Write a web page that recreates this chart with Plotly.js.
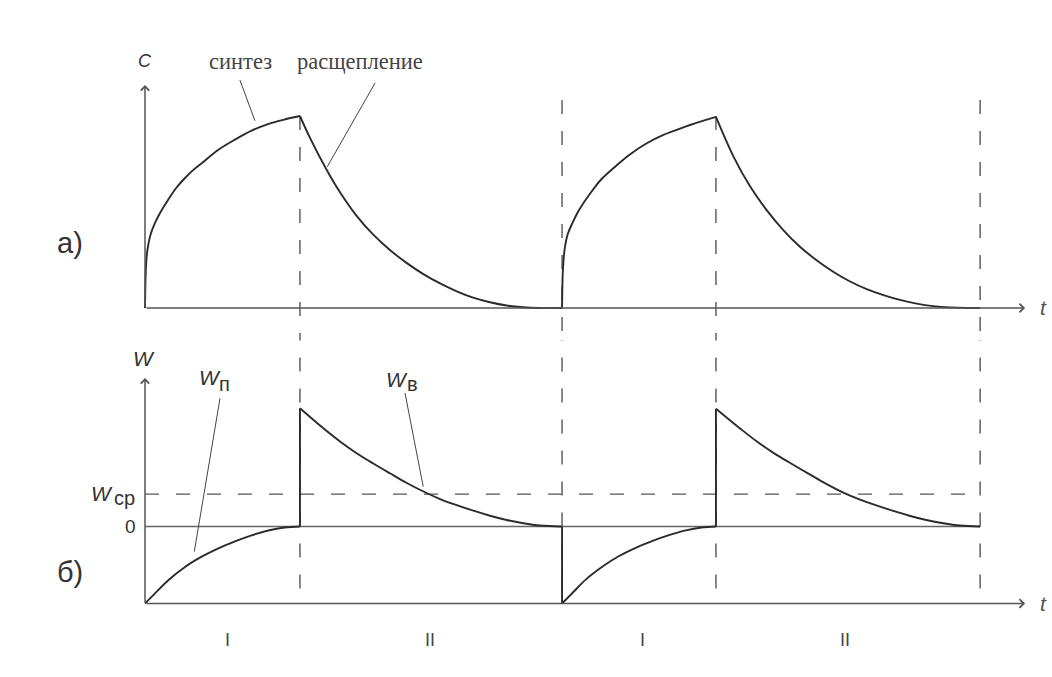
<!DOCTYPE html>
<html><head><meta charset="utf-8">
<script src="https://cdn.plot.ly/plotly-3.0.1.min.js"></script>
<style>html,body{margin:0;padding:0;background:#fff;}#chart{width:1052px;height:677px;}</style>
</head><body><div id="chart"></div>
<script>
// ---- phase boundaries (time units) ----
const phaseT = [0, 5.96, 16.04, 21.96, 32.12];
const phaseLabels = ["I", "II", "I", "II"];
const phaseLabelT = [3.19, 10.96, 19.15, 26.92];

// ---- panel a) concentration C ----
const tRise1 = [0, 0.01, 0.03, 0.065, 0.12, 0.22, 0.385, 0.6, 0.885, 1.2, 1.54, 1.85, 2.19, 2.81, 3.46, 4.12, 4.73, 5.4, 5.96];
const cRise1 = [0, 0.09, 0.19, 0.27, 0.325, 0.385, 0.443, 0.5, 0.5625, 0.625, 0.677, 0.718, 0.755, 0.823, 0.877, 0.925, 0.958, 0.983, 1.0];
const tDecay1 = [5.96, 6.35, 6.99, 7.5, 8.14, 8.77, 9.42, 10.06, 10.69, 11.35, 11.99, 12.62, 13.27, 13.91, 14.54, 15.19, 16.04];
const cDecay1 = [1.0, 0.885, 0.719, 0.603, 0.48, 0.383, 0.302, 0.235, 0.178, 0.128, 0.087, 0.054, 0.03, 0.013, 0.004, 0, 0];
const tRise2 = [16.04, 16.05, 16.07, 16.11, 16.16, 16.26, 16.43, 16.65, 16.93, 17.25, 17.56, 18.2, 18.65, 19.3, 19.92, 20.5, 20.96, 21.96];
const cRise2 = [0, 0.09, 0.19, 0.27, 0.325, 0.385, 0.44, 0.5, 0.56, 0.62, 0.672, 0.75, 0.8, 0.858, 0.9, 0.93, 0.953, 0.995];
const tDecay2 = [21.96, 22.63, 23.27, 23.91, 24.55, 25.19, 25.83, 26.47, 27.12, 27.76, 28.4, 29.04, 29.68, 30.32, 30.96, 31.6, 32.12];
const cDecay2 = [0.995, 0.79, 0.634, 0.51, 0.406, 0.319, 0.249, 0.189, 0.138, 0.098, 0.067, 0.042, 0.023, 0.01, 0.003, 0, 0];

// ---- panel б) rate W ----
const tWn1 = [0, 0.385, 0.896, 1.54, 2.18, 2.82, 3.46, 4.1, 4.74, 5.38, 5.96];
const wWn1 = [-1, -0.868, -0.697, -0.525, -0.392, -0.283, -0.193, -0.115, -0.052, -0.013, 0];
const tWv1 = [5.96, 6.86, 7.5, 8.14, 8.78, 9.42, 10.07, 10.83, 11.35, 11.99, 12.63, 13.27, 13.91, 14.55, 15.19, 15.96, 16.04];
const wWv1 = [1.535, 1.275, 1.104, 0.952, 0.818, 0.691, 0.565, 0.435, 0.357, 0.277, 0.205, 0.14, 0.085, 0.043, 0.013, 0, 0];
const tWn2 = [16.04, 16.45, 16.95, 17.6, 18.2, 18.85, 19.5, 20.15, 20.8, 21.4, 21.96];
const wWn2 = [-1, -0.86, -0.69, -0.52, -0.39, -0.28, -0.19, -0.113, -0.05, -0.013, 0];
const tWv2 = [21.96, 22.9, 23.55, 24.2, 24.85, 25.5, 26.15, 26.9, 27.45, 28.1, 28.75, 29.4, 30.05, 30.7, 31.35, 32.12];
const wWv2 = [1.53, 1.27, 1.1, 0.95, 0.818, 0.69, 0.563, 0.433, 0.356, 0.277, 0.205, 0.14, 0.085, 0.043, 0.013, 0];
const wMean = 0.42;

// ---- guide line extents ----
const guideTopC = [1.0, 1.083, 1.0, 1.083];
const guideBottomW = -1;
const leaderSynthT = [3.65, 4.23], leaderSynthC = [1.1875, 0.975];
const leaderSplitT = [8.85, 7.01], leaderSplitC = [1.172, 0.736];
const leaderWnT = [2.885, 1.896], leaderWnW = [1.665, -0.327];
const leaderWvT = [10.0, 10.7], leaderWvW = [1.734, 0.517];
const axisTipT = 33.85, axisTipC = 1.161, axisTipW = 1.929;

// ---- geometry (pixels) ----
const W = 1052, H = 677;
const PX = 26, X0 = 145;
const splitPx = 340;
const C0 = 308, CS = 192;
const W0 = 526.5, WS = 77;

const ink = '#2b2b2b', grey = '#555', dashStyle = '14px,17px';
const traces = [];
function line(x, y, ax, color, width, dash, smooth) {
  traces.push({x: x, y: y, yaxis: ax, type: 'scatter', mode: 'lines', hoverinfo: 'skip',
    line: {color: color, width: width, dash: dash || 'solid', shape: smooth ? 'spline' : 'linear', smoothing: 1}});
}
phaseT.slice(1).forEach((b, i) => {
  line([b, b], [guideTopC[i], -0.5], 'y', grey, 1.4, dashStyle);
  line([b, b], [3, guideBottomW], 'y2', grey, 1.4, dashStyle);
});
line([phaseT[0], phaseT[4]], [wMean, wMean], 'y2', grey, 1.4, dashStyle);
line([phaseT[0], phaseT[4]], [0, 0], 'y2', '#666', 1.5);
line(leaderSynthT, leaderSynthC, 'y', '#444', 1);
line(leaderSplitT, leaderSplitC, 'y', '#444', 1);
line(leaderWnT, leaderWnW, 'y2', '#444', 1);
line(leaderWvT, leaderWvW, 'y2', '#444', 1);
line(tRise1, cRise1, 'y', ink, 1.9, null, true);
line(tDecay1, cDecay1, 'y', ink, 1.9, null, true);
line(tRise2, cRise2, 'y', ink, 1.9, null, true);
line(tDecay2, cDecay2, 'y', ink, 1.9, null, true);
line(tWn1, wWn1, 'y2', ink, 1.9, null, true);
line(tWv1, wWv1, 'y2', ink, 1.9, null, true);
line(tWn2, wWn2, 'y2', ink, 1.9, null, true);
line(tWv2, wWv2, 'y2', ink, 1.9, null, true);
line([phaseT[1], phaseT[1]], [wWn1[wWn1.length-1], wWv1[0]], 'y2', ink, 1.9);
line([phaseT[2], phaseT[2]], [wWv1[wWv1.length-1], wWn2[0]], 'y2', ink, 1.9);
line([phaseT[3], phaseT[3]], [wWn2[wWn2.length-1], wWv2[0]], 'y2', ink, 1.9);

const sans = 'Liberation Sans, Arial, sans-serif', serif = 'Liberation Serif, Times New Roman, serif';
const ann = [];
function txt(x, y, yref, text, size, family, color) {
  ann.push({x: x, y: y, xref: 'x', yref: yref, text: text, showarrow: false, xanchor: 'center', yanchor: 'middle',
    font: {size: size, family: family || sans, color: color || '#333'}});
}
function arrow(x, y, ax, ay, yref) {
  ann.push({x: x, y: y, ax: ax, ay: ay, xref: 'x', yref: yref, axref: 'x', ayref: yref, text: '', showarrow: true,
    arrowhead: 4, arrowsize: 1.1, arrowwidth: 1.5, arrowcolor: grey, standoff: 0, startstandoff: 0});
}
arrow(0, axisTipC, 0, 0, 'y');
arrow(axisTipT, 0, 0, 0, 'y');
arrow(0, axisTipW, 0, -1, 'y2');
arrow(axisTipT, -1, 0, -1, 'y2');
txt(0, (C0-61)/CS, 'y', '<i>C</i>', 18);
txt(3.654, (C0-61)/CS, 'y', 'синтез', 22.5, serif, '#444');
txt(8.27, (C0-61)/CS, 'y', 'расщепление', 22.5, serif, '#444');
txt(34.55, 0.005, 'y', '<i>t</i>', 21, sans, '#555');
txt((70-X0)/PX, (C0-243)/CS, 'y', 'а)', 29);
txt(-0.04, (W0-358)/WS, 'y2', '<i>W</i>', 21);
txt(2.5, (W0-377)/WS, 'y2', '<i>W</i>', 21);
txt(3.05, (W0-384)/WS, 'y2', 'п', 20);
txt(9.68, (W0-379)/WS, 'y2', '<i>W</i>', 21);
txt(10.3, (W0-384)/WS, 'y2', 'в', 20);
txt(-1.66, (W0-493)/WS, 'y2', '<i>W</i>', 21);
txt(-0.8, (W0-498)/WS, 'y2', 'ср', 20);
txt(-0.577, 0, 'y2', '0', 19);
txt(34.55, -0.995, 'y2', '<i>t</i>', 21, sans, '#555');
txt((70-X0)/PX, (W0-572)/WS, 'y2', 'б)', 29);
phaseLabels.forEach((s, i) => txt(phaseLabelT[i], (W0-640)/WS, 'y2', s, 18, sans, '#444'));

const dom = 1 - splitPx / H;
const hidden = {showgrid: false, zeroline: false, showticklabels: false, showline: false, ticks: '', fixedrange: true};
const layout = {
  width: W, height: H, margin: {l: 0, r: 0, t: 0, b: 0}, paper_bgcolor: '#fff', plot_bgcolor: '#fff',
  showlegend: false, hovermode: false,
  xaxis: Object.assign({range: [-X0/PX, (W-X0)/PX], anchor: 'y'}, hidden),
  yaxis: Object.assign({domain: [dom, 1], range: [(C0-splitPx)/CS, C0/CS]}, hidden),
  yaxis2: Object.assign({domain: [0, dom], range: [(W0-H)/WS, (W0-splitPx)/WS], anchor: 'x'}, hidden),
  annotations: ann
};
Plotly.newPlot('chart', traces, layout, {displayModeBar: false, staticPlot: true});
</script></body></html>
